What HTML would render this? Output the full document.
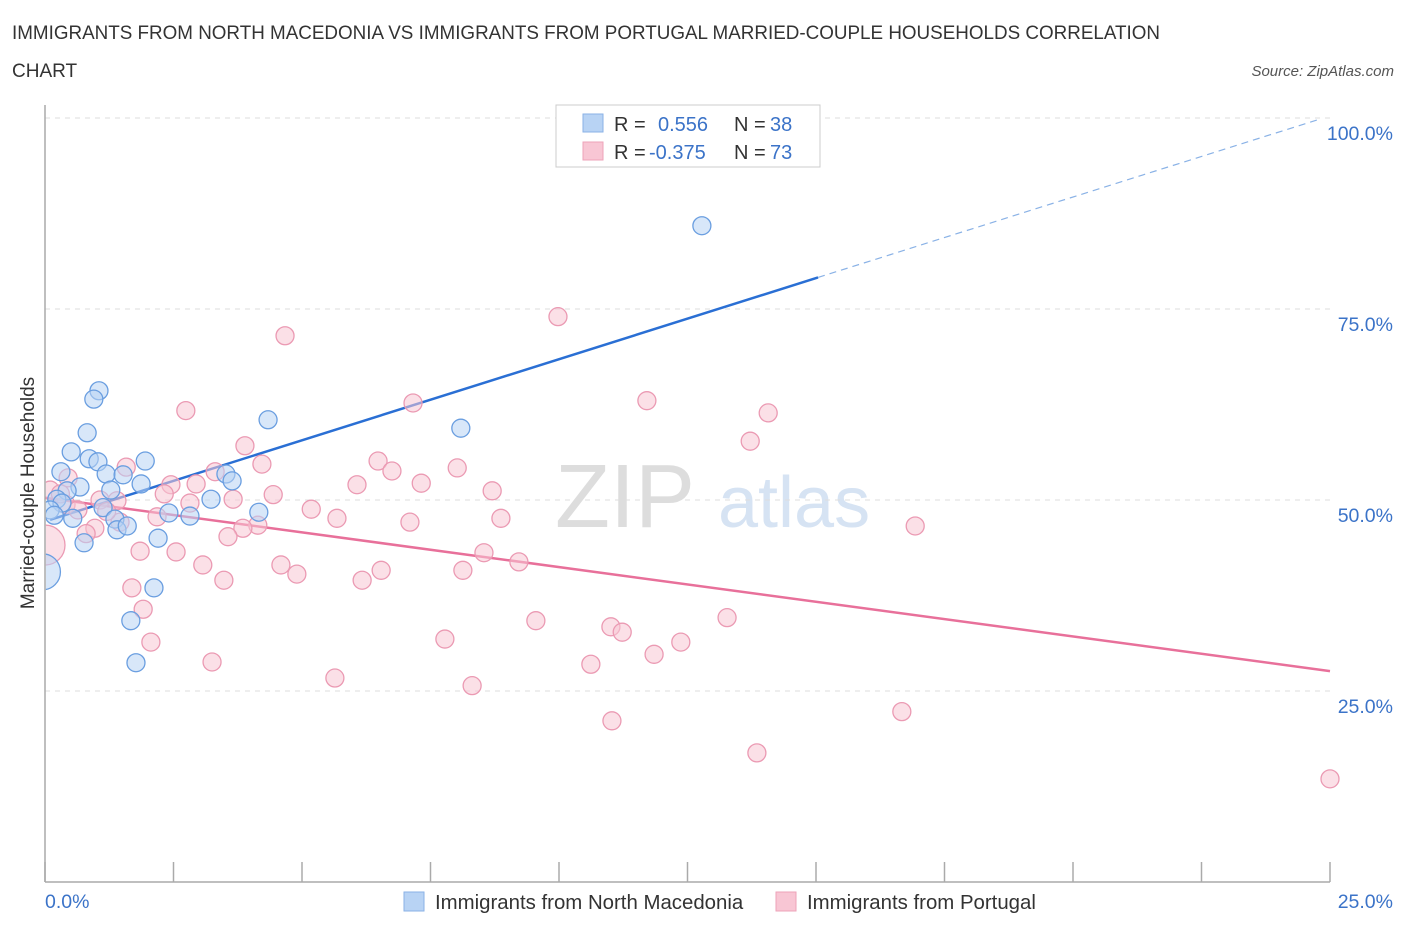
<!DOCTYPE html>
<html><head><meta charset="utf-8"><style>
body{margin:0;background:#fff;font-family:"Liberation Sans",sans-serif;}
svg text{font-family:"Liberation Sans",sans-serif;}
</style></head><body>
<svg id="chart" width="1406" height="930" xmlns="http://www.w3.org/2000/svg">
<text x="12" y="39" font-size="19" fill="#333" textLength="1148" lengthAdjust="spacingAndGlyphs">IMMIGRANTS FROM NORTH MACEDONIA VS IMMIGRANTS FROM PORTUGAL MARRIED-COUPLE HOUSEHOLDS CORRELATION</text>
<text x="12" y="77" font-size="19" fill="#333">CHART</text>
<text x="1394" y="76" font-size="15" fill="#555" font-style="italic" text-anchor="end">Source: ZipAtlas.com</text>
<text x="555" y="527" font-size="90" fill="#ddd" font-family="Liberation Serif">ZIP</text>
<text x="718" y="527" font-size="72" fill="#d6e3f3">atlas</text>
<g id="grid"></g>
<g id="axes"></g>
<g id="lines"></g>
<svg x="45.8" y="0" width="1360" height="882" overflow="hidden"><g id="pts" transform="translate(-45.8,0)"></g></svg>
<line x1="45" x2="45" y1="105" y2="882" stroke="#aaa" stroke-width="1.5"/>
<text transform="translate(34,493) rotate(-90)" font-size="19" fill="#333" text-anchor="middle">Married-couple Households</text>
<g>
<rect x="556" y="105" width="264" height="62" fill="#fff" stroke="#ccc"/>
<rect x="583" y="114" width="20" height="18" fill="#b8d3f4" stroke="#8ab2e6"/>
<rect x="583" y="142" width="20" height="18" fill="#f8c6d4" stroke="#eea3b9"/>
<text x="614" y="131" font-size="20" fill="#333">R =</text>
<text x="658" y="131" font-size="20" fill="#3b73c8">0.556</text>
<text x="734" y="131" font-size="20" fill="#333">N =</text>
<text x="770" y="131" font-size="20" fill="#3b73c8">38</text>
<text x="614" y="159" font-size="20" fill="#333">R =</text>
<text x="649" y="159" font-size="20" fill="#3b73c8">-0.375</text>
<text x="734" y="159" font-size="20" fill="#333">N =</text>
<text x="770" y="159" font-size="20" fill="#3b73c8">73</text>
</g>
<g>
<rect x="404" y="892" width="20" height="19" fill="#b8d3f4" stroke="#8ab2e6"/>
<text x="435" y="909" font-size="20.4" fill="#333">Immigrants from North Macedonia</text>
<rect x="776" y="892" width="20" height="19" fill="#f8c6d4" stroke="#eea3b9"/>
<text x="807" y="909" font-size="20.4" fill="#333">Immigrants from Portugal</text>
</g>
</svg>
<script>
const xTicks=[0,25];
const yTicks=[25,50,75,100];
const blueX=[12.78,1.05,0.95,4.34,8.09,0.82,0.51,1.95,0.86,1.03,0.31,1.19,1.52,3.52,3.64,1.87,0.68,0.43,1.28,3.23,0.23,0.33,0.1,0.18,0.54,1.13,1.36,2.41,2.82,4.16,1.4,0.76,2.2,-0.05,2.12,1.67,1.77,1.6];
const blueY=[85.9,64.3,63.2,60.5,59.4,58.8,56.3,55.1,55.4,55.0,53.7,53.4,53.3,53.4,52.5,52.1,51.7,51.2,51.3,50.1,50.1,49.6,48.7,48.0,47.6,49.0,47.5,48.3,47.9,48.4,46.1,44.4,45.0,40.6,38.5,34.2,28.7,46.6];
const blueR=[9,9,9,9,9,9,9,9,9,9,9,9,9,9,9,9,9,9,9,9,9,9,9,9,9,9,9,9,9,9,9,9,9,18,9,9,9,9];
const pinkX=[9.98,4.67,7.16,11.71,14.07,2.74,13.72,3.89,6.48,4.22,1.58,8.02,6.75,3.31,0.45,2.94,2.45,6.07,7.32,8.7,0.1,2.32,4.44,3.66,1.07,1.4,2.82,0.41,0.64,5.18,2.18,5.68,8.87,7.1,1.46,0.97,4.14,3.85,16.93,3.56,0.8,0,1.85,2.55,8.54,3.07,4.59,9.22,6.54,8.13,4.9,3.48,6.17,1.69,1.91,9.55,13.27,11.01,11.23,12.37,7.78,2.06,11.85,10.62,3.25,5.64,8.31,11.03,16.67,13.85,25.0,1.2,0.3];
const pinkY=[74.0,71.5,62.7,63.0,61.4,61.7,57.7,57.1,55.1,54.7,54.3,54.2,53.8,53.7,52.9,52.1,52.0,52.0,52.2,51.2,51.3,50.8,50.7,50.1,50.0,49.9,49.6,49.4,48.7,48.8,47.8,47.6,47.6,47.1,47.1,46.3,46.7,46.3,46.6,45.2,45.6,44.1,43.3,43.2,43.1,41.5,41.5,41.9,40.8,40.8,40.3,39.5,39.5,38.5,35.7,34.2,34.6,33.4,32.7,31.4,31.8,31.4,29.8,28.5,28.8,26.7,25.7,21.1,22.3,16.9,13.5,48.5,50.8];
const pinkR=[9,9,9,9,9,9,9,9,9,9,9,9,9,9,9,9,9,9,9,9,9,9,9,9,9,9,9,9,9,9,9,9,9,9,9,9,9,9,9,9,9,20,9,9,9,9,9,9,9,9,9,9,9,9,9,9,9,9,9,9,9,9,9,9,9,9,9,9,9,9,9,9,9];
const blueFit=[47.2,2.123];
const pinkFit=[50.3,-0.908];
const NS="http://www.w3.org/2000/svg";
const X=v=>45+v/25*1285, Y=v=>882-v*7.64;
function mk(t,a,p){const e=document.createElementNS(NS,t);for(const k in a)e.setAttribute(k,a[k]);p.appendChild(e);return e;}
const grid=document.getElementById('grid'),axes=document.getElementById('axes'),lines=document.getElementById('lines'),pts=document.getElementById('pts');
yTicks.forEach(t=>{
 const l=mk('line',{x1:45,x2:1330,y1:Y(t),y2:Y(t),stroke:'#ddd','stroke-dasharray':'5,5'},grid);
 
 
 const tx=mk('text',{x:1393,y:Y(t)+22,'font-size':19.5,fill:'#3b73c8','text-anchor':'end'},grid);
 tx.textContent=t.toFixed(1)+'%';
 
 
});
const bx=mk('line',{x1:45,x2:1330,y1:882,y2:882,stroke:'#aaa','stroke-width':1.5},axes);


for(let i=0;i<=10;i++){const tk=mk('line',{x1:X(i*2.5),x2:X(i*2.5),y1:862,y2:882,stroke:'#aaa','stroke-width':1.5},axes);
 
 }
xTicks.forEach((t,i)=>{const tx=mk('text',{x:i?1393:45,y:908,'font-size':19.5,fill:'#3b73c8','text-anchor':i?'end':'start'},axes);
 tx.textContent=t.toFixed(1)+'%';
 
 });
function addPts(xs,ys,rs,fill,stroke,name){xs.forEach((x,i)=>{const c=mk('circle',{cx:X(x),cy:Y(ys[i]),r:rs[i],fill:fill,stroke:stroke,'stroke-width':1.3,'fill-opacity':0.55},pts);
 
 });}
addPts(pinkX,pinkY,pinkR,'#f8c6d4','#eb9ab3','portugal-point');
addPts(blueX,blueY,blueR,'#b8d3f4','#6a9ee0','macedonia-point');
const f=(fit,x)=>fit[0]+fit[1]*x;
const bl=mk('line',{x1:X(0.1),y1:Y(f(blueFit,0.1)),x2:X(15.04),y2:Y(f(blueFit,15.04)),stroke:'#2a6fd4','stroke-width':2.5},lines);


const bd=mk('line',{x1:X(15.04),y1:Y(f(blueFit,15.04)),x2:X(24.8),y2:Y(f(blueFit,24.8)),stroke:'#8ab2e6','stroke-width':1.2,'stroke-dasharray':'7,5'},lines);


const pl=mk('line',{x1:X(0),y1:Y(f(pinkFit,0)),x2:X(25),y2:Y(f(pinkFit,25)),stroke:'#e8709a','stroke-width':2.5},lines);


</script>
</body></html>
